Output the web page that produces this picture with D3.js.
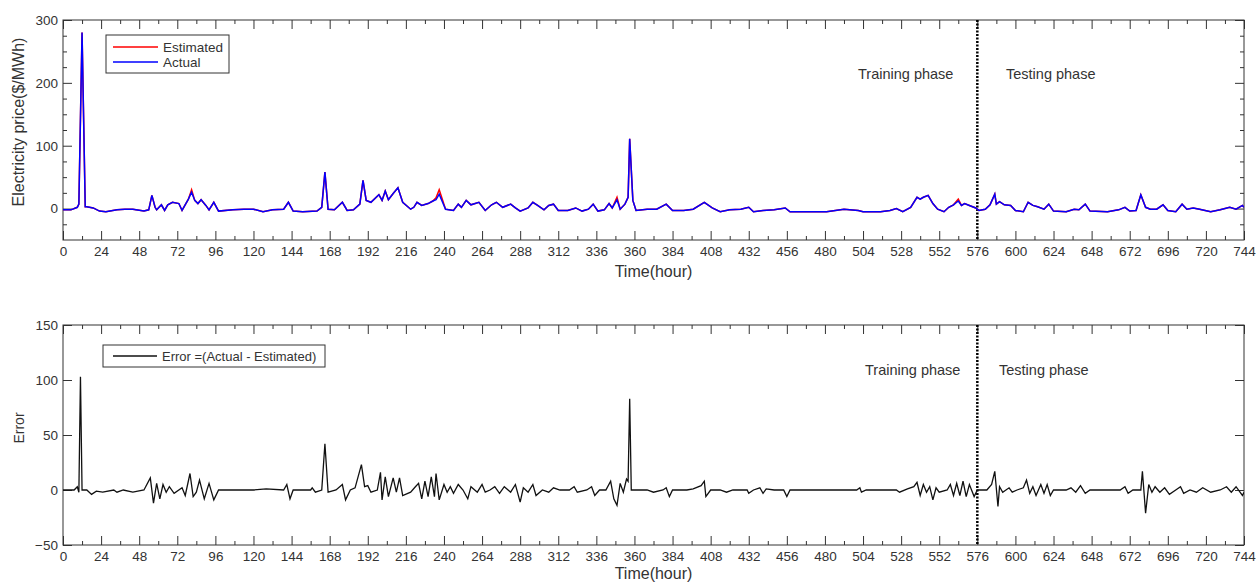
<!DOCTYPE html>
<html>
<head>
<meta charset="utf-8">
<script src="https://cdn.jsdelivr.net/npm/d3@7"></script>
<style>
  body { margin: 0; background: #fff; }
  svg text { font-family: 'Liberation Sans', Arial, sans-serif; }
</style>
</head>
<body>
<svg id="chart" width="1257" height="584"></svg>
<script>
// hourly price: [hour, $/MWh]
const actual = [
  [0, -2], [5, -2], [9, 2], [10, 7], [12, 280], [14, 3], [15, 3], [19, 1], [23, -4], [27, -5], [34, -2], [39, -1], [44, -1],
  [51, -4], [54, -2], [56, 21], [58, 2], [59, -2], [62, 6], [64, -3], [66, 6], [69, 10], [73, 8], [75, -3], [79, 15], [81, 26],
  [83, 13], [85, 8], [87, 14], [90, 5], [92, -2], [95, 10], [98, -4], [107, -2], [114, -1], [120, -1], [126, -5], [132, -2],
  [139, -1], [142, 10], [145, -4], [151, -5], [160, -4], [163, 2], [165, 58], [167, -1], [171, -2], [176, 10], [179, -3],
  [183, -2], [187, 7], [189, 45], [191, 13], [194, 10], [199, 22], [201, 13], [203, 28], [205, 14], [208, 24], [211, 33],
  [214, 10], [219, -1], [221, 2], [223, 10], [226, 5], [230, 8], [233, 12], [235, 14], [237, 23], [241, -1], [246, -3],
  [249, 7], [251, 2], [254, 13], [257, 6], [262, 10], [266, -3], [270, 6], [273, 10], [277, 2], [282, 7], [285, 1], [288, -4],
  [293, 1], [296, 10], [299, 5], [303, -2], [306, 5], [309, 7], [312, -3], [318, -3], [323, 1], [327, -4], [331, -1], [334, 7],
  [337, -4], [341, -2], [344, 8], [346, 1], [349, 14], [351, -1], [354, 7], [356, 18], [357, 111], [359, 13], [361, -3],
  [368, -1], [374, -1], [380, 7], [384, -3], [391, -3], [397, -1], [404, 10], [409, 1], [414, -5], [420, -2], [427, -1],
  [432, 2], [435, -5], [441, -3], [448, -2], [455, 1], [458, -5], [471, -5], [481, -5], [492, -1], [501, -3], [504, -5],
  [515, -5], [521, -3], [525, 0], [529, -5], [534, 2], [538, 18], [540, 15], [542, 18], [545, 21], [548, 8], [551, -1],
  [555, -5], [558, 2], [561, 6], [564, 12], [566, 5], [568, 8], [571, 5], [575, 1], [577, -3], [581, -1], [584, 6], [587, 23],
  [588, 7], [590, 11], [593, 6], [597, 5], [600, -3], [605, -5], [608, 10], [611, 5], [614, 3], [618, -1], [621, 7], [624, -4],
  [632, -5], [637, -1], [640, -2], [644, 7], [647, -4], [658, -5], [665, -2], [669, 2], [672, -4], [676, -3], [679, 22],
  [682, 2], [685, -1], [689, -1], [693, 6], [696, -3], [701, -5], [705, 7], [708, -1], [712, 1], [716, -1], [723, -5],
  [729, -2], [735, 2], [739, -1], [743, 5], [744, 2]
];

// hours where the red (estimated) trace parts from the blue one
const estimatedPeaks = [[81, 30], [235, 17], [237, 30], [349, 18], [564, 15]];

// error: [hour, Actual - Estimated]
const errors = [
  [0, 0], [7, 0], [9, 3], [10, -2], [11, 103], [12, 0], [15, 0], [18, -4], [21, -1], [25, -2], [32, 0], [34, -2], [38, 0],
  [44, -2], [51, 0], [55, 11], [57, -12], [59, 6], [61, -8], [63, 5], [65, -2], [67, 3], [70, -3], [75, 2], [77, -5], [80, 15],
  [82, -6], [84, -2], [86, 9], [89, -8], [92, 6], [95, -9], [98, 0], [107, 0], [120, 0], [128, 1], [139, 0], [141, 5],
  [143, -8], [145, 0], [156, 0], [157, 2], [159, -2], [163, 0], [165, 42], [167, -2], [172, 0], [176, 5], [178, -9], [181, 0],
  [184, 2], [188, 23], [190, 3], [192, 4], [194, -2], [198, 0], [200, 16], [201, -9], [203, 12], [205, -6], [208, 11],
  [210, -2], [212, 11], [214, -5], [219, -2], [222, 3], [224, 6], [226, -8], [228, 8], [230, -6], [232, 12], [234, -6],
  [235, 15], [237, -9], [240, 5], [242, -2], [244, 3], [246, -3], [249, 5], [252, 0], [255, -8], [257, 3], [261, -2],
  [264, 5], [266, -2], [269, 0], [272, 3], [275, -3], [278, 3], [282, -2], [285, 5], [288, -11], [290, 2], [293, -2],
  [296, 5], [298, -5], [302, 0], [306, -2], [309, 2], [313, 0], [319, 0], [322, 3], [324, -2], [330, 0], [333, 3], [335, -5],
  [338, 0], [342, 0], [345, 8], [347, -8], [349, -14], [351, 6], [353, -2], [355, 10], [356, 8], [357, 83], [358, 0],
  [368, 0], [372, -2], [378, 0], [380, 2], [382, -6], [384, 0], [393, 0], [397, 1], [402, 4], [404, 8], [405, -6], [408, 0],
  [414, 0], [418, -2], [422, 0], [431, 0], [432, -3], [435, 0], [439, 2], [441, -3], [443, 1], [448, 0], [454, 0], [456, -6],
  [458, 0], [500, 0], [502, 2], [503, -2], [506, 0], [525, 0], [527, -2], [532, 1], [536, 3], [538, 7], [540, -5], [542, 5],
  [544, -2], [546, 3], [548, -9], [550, 2], [552, -2], [557, 0], [559, 5], [561, -5], [563, 6], [565, -5], [567, 8], [569, -6],
  [571, 5], [574, -6], [576, 0], [582, 0], [585, 5], [587, 17], [589, -15], [590, 3], [592, -2], [596, 2], [598, -2], [601, 0],
  [605, 2], [607, 9], [609, -3], [611, 3], [613, -5], [616, 5], [618, -3], [620, 5], [622, -5], [624, 0], [632, 0], [635, 2],
  [638, -2], [641, 4], [644, -3], [647, 0], [666, 0], [669, 3], [671, -3], [674, 0], [679, 0], [680, 17], [682, -21], [684, 5],
  [686, -2], [688, 3], [691, -2], [694, 2], [697, -4], [701, 0], [704, 3], [706, -3], [710, 0], [714, -2], [718, 2], [723, -2],
  [729, 0], [733, 3], [736, -2], [739, 3], [743, -5], [744, -2]
];

const xTicks = d3.range(0, 745, 24);
const xMinor = d3.range(12, 745, 24);
const splitHour = 576;

const svg = d3.select('#chart');
const x = d3.scaleLinear([0, 744], [63, 1244]);

function panel({ top, bottom, yDomain, yTicks, yMinor, yLabel, labelY, labelSize, timeY }) {
  const y = d3.scaleLinear(yDomain, [bottom, top]);
  const g = svg.append('g');
  const id = 'clip' + top;
  svg.append('clipPath').attr('id', id).append('rect')
    .attr('x', x(0)).attr('y', top).attr('width', x(744) - x(0)).attr('height', bottom - top);

  const styleAxis = (sel) => {
    sel.select('.domain').remove();
    sel.selectAll('line').attr('stroke', '#333');
    sel.selectAll('text').attr('fill', '#333').attr('font-size', 13.5);
  };
  g.append('g').attr('transform', `translate(0,${bottom})`)
    .call(d3.axisBottom(x).tickValues(xTicks).tickSizeInner(-9).tickSizeOuter(0).tickPadding(6)).call(styleAxis);
  g.append('g').attr('transform', `translate(0,${bottom})`)
    .call(d3.axisBottom(x).tickValues(xMinor).tickSizeInner(-4).tickSizeOuter(0).tickFormat('')).call(styleAxis);
  g.append('g').attr('transform', `translate(0,${top})`)
    .call(d3.axisTop(x).tickValues(xTicks).tickSizeInner(-9).tickSizeOuter(0).tickFormat('')).call(styleAxis);
  g.append('g').attr('transform', `translate(0,${top})`)
    .call(d3.axisTop(x).tickValues(xMinor).tickSizeInner(-4).tickSizeOuter(0).tickFormat('')).call(styleAxis);
  g.append('g').attr('transform', `translate(${x(0)},0)`)
    .call(d3.axisLeft(y).tickValues(yTicks).tickSizeInner(-9).tickSizeOuter(0).tickPadding(5)).call(styleAxis);
  g.append('g').attr('transform', `translate(${x(744)},0)`)
    .call(d3.axisRight(y).tickValues(yTicks).tickSizeInner(-9).tickSizeOuter(0).tickFormat('')).call(styleAxis);
  if (yMinor.length) {
    g.append('g').attr('transform', `translate(${x(0)},0)`)
      .call(d3.axisLeft(y).tickValues(yMinor).tickSizeInner(-4).tickSizeOuter(0).tickFormat('')).call(styleAxis);
    g.append('g').attr('transform', `translate(${x(744)},0)`)
      .call(d3.axisRight(y).tickValues(yMinor).tickSizeInner(-4).tickSizeOuter(0).tickFormat('')).call(styleAxis);
  }
  g.append('rect').attr('x', x(0)).attr('y', top).attr('width', x(744) - x(0)).attr('height', bottom - top)
    .attr('fill', 'none').attr('stroke', '#333').attr('stroke-width', 1);

  g.append('text').attr('x', (x(0) + x(744)) / 2).attr('y', timeY).attr('text-anchor', 'middle')
    .attr('font-size', 16).attr('fill', '#333').text('Time(hour)');
  g.append('text').attr('transform', `translate(24,${labelY}) rotate(-90)`).attr('text-anchor', 'middle')
    .attr('font-size', labelSize).attr('fill', '#333').text(yLabel);

  g.append('line').attr('x1', x(splitHour)).attr('x2', x(splitHour)).attr('y1', top).attr('y2', bottom)
    .attr('stroke', '#000').attr('stroke-width', 2.5).attr('stroke-dasharray', '2,1.5');
  return { g, y, clip: `url(#${id})` };
}

// upper panel: price
const p1 = panel({ top: 20, bottom: 240, yDomain: [-50, 300], yTicks: [0, 100, 200, 300],
  yMinor: [-25, 25, 50, 75, 125, 150, 175, 225, 250, 275], yLabel: 'Electricity price($/MWh)', labelY: 122, labelSize: 16, timeY: 277 });
const peakMap = new Map(estimatedPeaks);
const estimated = actual.map(([h, v]) => [h, peakMap.has(h) ? peakMap.get(h) : v]);
const line1 = d3.line().x((d) => x(d[0])).y((d) => p1.y(d[1]));
p1.g.append('path').datum(estimated).attr('clip-path', p1.clip).attr('d', line1)
  .attr('fill', 'none').attr('stroke', '#ff0000').attr('stroke-width', 1.5);
p1.g.append('path').datum(actual).attr('clip-path', p1.clip).attr('d', line1)
  .attr('fill', 'none').attr('stroke', '#0000ff').attr('stroke-width', 1.5);

const leg1 = p1.g.append('g');
leg1.append('rect').attr('x', 106).attr('y', 35).attr('width', 123).attr('height', 38)
  .attr('fill', '#fff').attr('stroke', '#333').attr('stroke-width', 1);
[['Estimated', '#ff0000', 47], ['Actual', '#0000ff', 62]].forEach(([label, color, ly]) => {
  leg1.append('line').attr('x1', 113).attr('x2', 158).attr('y1', ly).attr('y2', ly).attr('stroke', color).attr('stroke-width', 1.5);
  leg1.append('text').attr('x', 163).attr('y', ly).attr('dy', '0.35em').attr('font-size', 13.5).attr('fill', '#333').text(label);
});
p1.g.append('text').attr('x', 858).attr('y', 74).attr('dy', '0.35em').attr('font-size', 14.5).attr('fill', '#333').text('Training phase');
p1.g.append('text').attr('x', 1006).attr('y', 74).attr('dy', '0.35em').attr('font-size', 14.5).attr('fill', '#333').text('Testing phase');

// lower panel: error
const p2 = panel({ top: 325, bottom: 545, yDomain: [-50, 150], yTicks: [-50, 0, 50, 100, 150],
  yMinor: [], yLabel: 'Error', labelY: 428, labelSize: 14, timeY: 579 });
const line2 = d3.line().x((d) => x(d[0])).y((d) => p2.y(d[1]));
p2.g.append('path').datum(errors).attr('clip-path', p2.clip).attr('d', line2)
  .attr('fill', 'none').attr('stroke', '#111').attr('stroke-width', 1.3);

const leg2 = p2.g.append('g');
leg2.append('rect').attr('x', 103).attr('y', 345).attr('width', 222).attr('height', 22)
  .attr('fill', '#fff').attr('stroke', '#333').attr('stroke-width', 1);
leg2.append('line').attr('x1', 113).attr('x2', 157).attr('y1', 356).attr('y2', 356).attr('stroke', '#111').attr('stroke-width', 1.3);
leg2.append('text').attr('x', 162).attr('y', 356).attr('dy', '0.35em').attr('font-size', 13).attr('fill', '#333')
  .text('Error =(Actual - Estimated)');
p2.g.append('text').attr('x', 865).attr('y', 370).attr('dy', '0.35em').attr('font-size', 14.5).attr('fill', '#333').text('Training phase');
p2.g.append('text').attr('x', 999).attr('y', 370).attr('dy', '0.35em').attr('font-size', 14.5).attr('fill', '#333').text('Testing phase');
</script>
</body>
</html>
